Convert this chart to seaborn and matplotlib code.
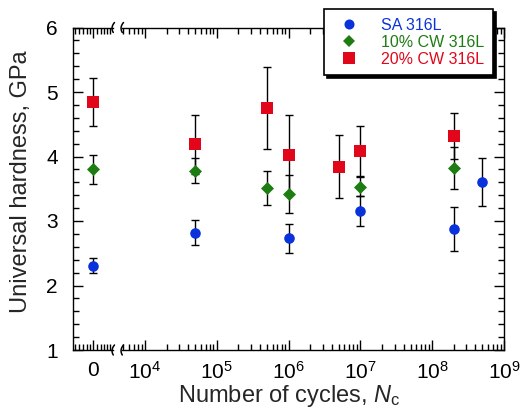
import numpy as np
import pandas as pd
import matplotlib
matplotlib.use("Agg")
import matplotlib.pyplot as plt
import seaborn as sns
from matplotlib.lines import Line2D
from matplotlib.ticker import FixedLocator, MultipleLocator, LogLocator, NullFormatter

# Hardness (GPa) versus number of fatigue cycles; 0 = as-received state
cycles_sa = [0, 5e4, 1e6, 1e7, 2e8, 5e8]
hard_sa = [2.31, 2.82, 2.73, 3.15, 2.88, 3.60]
err_sa = [0.12, 0.19, 0.22, 0.23, 0.34, 0.37]

cycles_cw10 = [0, 5e4, 5e5, 1e6, 1e7, 2e8]
hard_cw10 = [3.80, 3.78, 3.51, 3.42, 3.53, 3.82]
err_cw10 = [0.23, 0.19, 0.26, 0.29, 0.15, 0.33]

cycles_cw20 = [0, 5e4, 5e5, 1e6, 5e6, 1e7, 2e8]
hard_cw20 = [4.85, 4.19, 4.75, 4.03, 3.84, 4.08, 4.32]
err_cw20 = [0.37, 0.46, 0.64, 0.62, 0.49, 0.39, 0.36]

materials = ["SA 316L", "10% CW 316L", "20% CW 316L"]
colors = {"SA 316L": "#0a32dc", "10% CW 316L": "#1e7d12", "20% CW 316L": "#e2061a"}
markers = {"SA 316L": "o", "10% CW 316L": "D", "20% CW 316L": "s"}
msize = {"SA 316L": 58, "10% CW 316L": 44, "20% CW 316L": 80}

y_ticks = [1, 2, 3, 4, 5, 6]
log_ticks = [1e4, 1e5, 1e6, 1e7, 1e8, 1e9]
log_labels = [r"$10^{4}$", r"$10^{5}$", r"$10^{6}$", r"$10^{7}$", r"$10^{8}$", r"$10^{9}$"]

frames = []
for name, c, h, e in zip(materials,
                         [cycles_sa, cycles_cw10, cycles_cw20],
                         [hard_sa, hard_cw10, hard_cw20],
                         [err_sa, err_cw10, err_cw20]):
    frames.append(pd.DataFrame({"cycles": c, "hardness": h, "err": e, "material": name}))
df = pd.concat(frames, ignore_index=True)

sns.set_theme(style="ticks")
plt.rcParams["font.family"] = ["Liberation Sans", "DejaVu Sans"]
plt.rcParams["mathtext.fontset"] = "custom"
plt.rcParams["mathtext.rm"] = "Liberation Sans"
plt.rcParams["mathtext.it"] = "Liberation Sans:italic"

W, H = 520, 408
fig = plt.figure(figsize=(W / 100, H / 100), dpi=100)


def box(x0, y0, x1, y1):
    return [x0 / W, 1 - y1 / H, (x1 - x0) / W, (y1 - y0) / H]


ax0 = fig.add_axes(box(73, 27.5, 113, 350))
ax1 = fig.add_axes(box(122, 27.5, 504, 350), sharey=ax0)

for ax, part in ((ax0, df[df.cycles == 0]), (ax1, df[df.cycles > 0])):
    for name in materials:
        sub = part[part.material == name]
        ax.errorbar(sub.cycles, sub.hardness, yerr=sub.err, fmt="none",
                    ecolor="black", elinewidth=1.0, capsize=3.2, capthick=1.0,
                    zorder=2)
        sns.scatterplot(data=sub, x="cycles", y="hardness", ax=ax,
                        color=colors[name], marker=markers[name],
                        s=msize[name], linewidth=0, zorder=3, legend=False)
    ax.set_xlabel("")
    ax.set_ylabel("")

tick_kw = dict(direction="in", colors="black", width=1.0)
fs = 15

# left segment: the uncycled state
ax0.set_xlim(-1, 1)
ax0.set_ylim(1, 6)
ax0.set_xticks([0])
ax0.set_xticklabels(["0"])
ax0.xaxis.set_minor_locator(FixedLocator([-0.9, -0.7, -0.5, -0.3, -0.15, 0.2, 0.4, 0.55, 0.7, 0.85]))
ax0.yaxis.set_major_locator(FixedLocator(y_ticks))
ax0.yaxis.set_minor_locator(MultipleLocator(0.2))
ax0.tick_params(which="both", top=True, bottom=True, left=True, right=False, **tick_kw)
ax0.tick_params(which="major", length=7)
ax0.tick_params(which="minor", length=4)
ax0.tick_params(axis="y", labelsize=fs, pad=11)
ax0.tick_params(axis="x", labelsize=fs, pad=8)
ax0.spines["right"].set_visible(False)

# right segment: logarithmic cycle axis
ax1.set_xscale("log")
ax1.set_xlim(10 ** 3.68, 1e9)
ax1.xaxis.set_major_locator(FixedLocator(log_ticks))
ax1.set_xticklabels(log_labels)
ax1.xaxis.set_minor_locator(LogLocator(base=10, subs=np.arange(2, 10)))
ax1.xaxis.set_minor_formatter(NullFormatter())
ax1.tick_params(which="both", top=True, bottom=True, left=False, right=True,
                labelleft=False, **tick_kw)
ax1.tick_params(which="major", length=7)
ax1.tick_params(which="minor", length=4)
ax1.tick_params(axis="x", labelsize=fs, pad=8)
ax1.spines["left"].set_visible(False)

for ax in (ax0, ax1):
    for sp in ax.spines.values():
        sp.set_linewidth(1.0)
        sp.set_color("black")
    ax.set_facecolor("white")

# axis break marks on the top and bottom spines
t = np.linspace(-1, 1, 20)
for xb in (113, 122):
    for yb in (27.5, 350):
        xs = (xb + 1.8 * t ** 2 - 0.6 * t - 0.9) / W
        ys = 1 - (yb + 5.0 * t) / H
        fig.add_artist(Line2D(xs, ys, color="black", lw=1.1, transform=fig.transFigure))

fig.text(21 / W, 1 - 182 / H, "Universal hardness, GPa", rotation=90,
         ha="center", va="center", fontsize=17)
fig.text(289 / W, 1 - 396 / H, r"Number of cycles, $N_\mathrm{c}$",
         ha="center", va="center", fontsize=17)

handles = [Line2D([], [], linestyle="none", marker=markers[m], color=colors[m],
                  markersize=np.sqrt(msize[m]) * 0.95, markeredgewidth=0) for m in materials]
leg = fig.legend(handles, materials, loc="upper right",
                 bbox_to_anchor=(493 / W, 1 - 9 / H), frameon=True, fancybox=False,
                 shadow={"color": "black", "alpha": 1.0}, fontsize=11.5,
                 handletextpad=1.0, borderpad=0.55, labelspacing=0.12,
                 handlelength=2.0, borderaxespad=0)
leg.get_frame().set_edgecolor("black")
leg.get_frame().set_linewidth(1.2)
leg.get_frame().set_alpha(1)
for txt, m in zip(leg.get_texts(), materials):
    txt.set_color(colors[m])

fig.savefig("out.png", dpi=100, facecolor="white")
